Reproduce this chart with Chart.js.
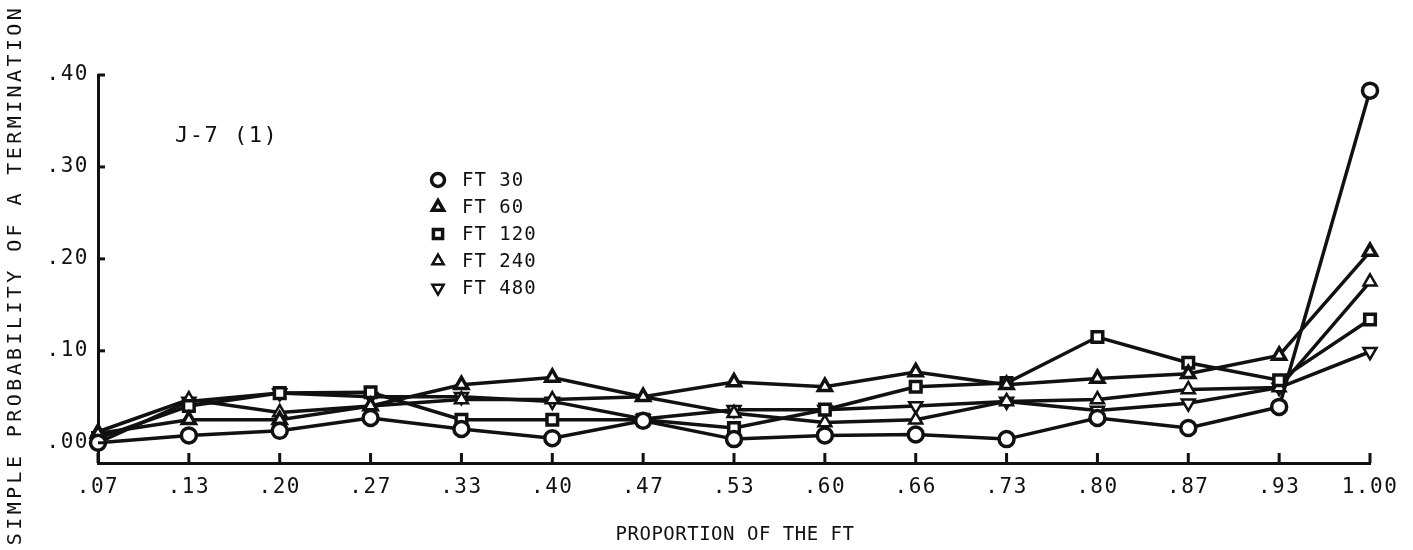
<!DOCTYPE html>
<html>
<head>
<meta charset="utf-8">
<script src="https://cdn.jsdelivr.net/npm/chart.js@4/dist/chart.umd.min.js"></script>
<style>
  html, body { margin: 0; padding: 0; background: #fff; }
  #wrap { width: 1413px; height: 550px; position: relative; }
</style>
</head>
<body>
<div id="wrap"><canvas id="chart-term"></canvas></div>
<script>
// categories on the x axis (proportion of the FT)
const categories = ['.07', '.13', '.20', '.27', '.33', '.40', '.47', '.53', '.60', '.66', '.73', '.80', '.87', '.93', '1.00'];

// y tick values and their printed labels
const yTicks = [0, 0.1, 0.2, 0.3, 0.4];
const yTickLabels = ['.00', '.10', '.20', '.30', '.40'];

// series
const seriesNames = ['FT 30', 'FT 60', 'FT 120', 'FT 240', 'FT 480'];
const ft30  = [0.000, 0.008, 0.013, 0.027, 0.015, 0.005, 0.024, 0.004, 0.008, 0.009, 0.004, 0.027, 0.016, 0.039, 0.383];
const ft60  = [0.010, 0.025, 0.025, 0.040, 0.063, 0.071, 0.050, 0.066, 0.061, 0.077, 0.063, 0.070, 0.075, 0.095, 0.208];
const ft120 = [0.005, 0.040, 0.054, 0.055, 0.025, 0.025, 0.025, 0.016, 0.036, 0.061, 0.065, 0.115, 0.087, 0.068, 0.134];
const ft240 = [0.012, 0.047, 0.033, 0.040, 0.047, 0.047, 0.050, 0.032, 0.022, 0.025, 0.045, 0.047, 0.058, 0.060, 0.175];
const ft480 = [0.000, 0.045, 0.054, 0.050, 0.050, 0.045, 0.026, 0.036, 0.036, 0.040, 0.045, 0.035, 0.043, 0.060, 0.099];

const FONT = '"DejaVu Sans Mono", "Liberation Mono", monospace';
const INK = '#111';

const markers = [
  { style: 'circle',   rot: 0,   bw: 3.5 },
  { style: 'triangle', rot: 0,   bw: 3.5 },
  { style: 'rect',     rot: 0,   bw: 3.5 },
  { style: 'triangle', rot: 0,   bw: 2.5 },
  { style: 'triangle', rot: 180, bw: 2.5 }
];

function makeSet(name, values, i) {
  return {
    label: name,
    data: values,
    borderColor: INK,
    borderWidth: 3.5,
    backgroundColor: '#fff',
    pointStyle: markers[i].style,
    pointRotation: markers[i].rot,
    pointRadius: 7.5,
    pointBorderWidth: markers[i].bw,
    pointBorderColor: INK,
    pointBackgroundColor: '#fff',
    tension: 0,
    clip: false
  };
}

// texts, legend and inward tick marks
const decor = {
  id: 'decor',
  beforeDraw(chart) {
    chart.ctx.letterSpacing = '1.5px';
  },
  afterDraw(chart) {
    const ctx = chart.ctx;
    const xs = chart.scales.x, ys = chart.scales.y;
    ctx.save();
    ctx.strokeStyle = INK;
    ctx.lineWidth = 3;
    // tick marks pointing into the plot
    ys.ticks.forEach(t => {
      const y = ys.getPixelForValue(t.value);
      ctx.beginPath(); ctx.moveTo(xs.left, y); ctx.lineTo(xs.left + 7, y); ctx.stroke();
    });
    categories.forEach((c, i) => {
      const x = xs.getPixelForValue(i);
      ctx.beginPath(); ctx.moveTo(x, ys.bottom); ctx.lineTo(x, ys.bottom - 10); ctx.stroke();
    });

    ctx.fillStyle = INK;
    ctx.textBaseline = 'middle';

    // y axis title
    ctx.save();
    ctx.translate(16, 275);
    ctx.rotate(-Math.PI / 2);
    ctx.font = '20px ' + FONT;
    ctx.letterSpacing = '3.4px';
    ctx.textAlign = 'center';
    ctx.fillText('SIMPLE PROBABILITY OF A TERMINATION', 0, 0);
    ctx.restore();

    // x axis title
    ctx.font = '19px ' + FONT;
    ctx.letterSpacing = '0.5px';
    ctx.textAlign = 'center';
    ctx.fillText('PROPORTION OF THE FT', 735, 535);

    // label
    ctx.font = '22px ' + FONT;
    ctx.letterSpacing = '1.5px';
    ctx.textAlign = 'left';
    ctx.fillText('J-7 (1)', 175, 136);

    // legend
    ctx.font = '19px ' + FONT;
    ctx.letterSpacing = '1px';
    seriesNames.forEach((name, i) => {
      const y = 180 + i * 27;
      ctx.fillStyle = '#fff';
      ctx.strokeStyle = INK;
      ctx.lineWidth = markers[i].bw;
      if (Chart.helpers && Chart.helpers.drawPoint) {
        Chart.helpers.drawPoint(ctx, {
          pointStyle: markers[i].style, rotation: markers[i].rot,
          radius: 6.5, borderWidth: markers[i].bw
        }, 438, y);
      }
      ctx.fillStyle = INK;
      ctx.fillText(name, 462, y + 1);
    });
    ctx.restore();
  }
};

const ctx = document.getElementById('chart-term').getContext('2d');
new Chart(ctx, {
  type: 'line',
  data: {
    labels: categories,
    datasets: [
      makeSet(seriesNames[0], ft30, 0),
      makeSet(seriesNames[1], ft60, 1),
      makeSet(seriesNames[2], ft120, 2),
      makeSet(seriesNames[3], ft240, 3),
      makeSet(seriesNames[4], ft480, 4)
    ]
  },
  options: {
    responsive: true,
    maintainAspectRatio: false,
    animation: false,
    events: [],
    layout: { padding: { left: 0, right: 43, top: 75, bottom: 0 } },
    plugins: {
      legend: { display: false },
      tooltip: { enabled: false }
    },
    scales: {
      x: {
        type: 'category',
        offset: false,
        grid: { display: false, drawTicks: false },
        border: { display: true, color: INK, width: 3 },
        ticks: {
          color: INK,
          padding: 12,
          maxRotation: 0,
          autoSkip: false,
          font: { family: FONT, size: 21 }
        },
        afterFit(scale) { scale.height = 87; }
      },
      y: {
        min: -0.022,
        max: 0.40,
        grid: { display: false, drawTicks: false },
        border: { display: true, color: INK, width: 3 },
        afterBuildTicks(scale) { scale.ticks = yTicks.map(v => ({ value: v })); },
        ticks: {
          color: INK,
          padding: 9,
          font: { family: FONT, size: 21 },
          callback: function (value) {
            const i = yTicks.findIndex(v => Math.abs(v - value) < 1e-6);
            return i >= 0 ? yTickLabels[i] : '';
          }
        },
        afterFit(scale) { scale.width = 98; }
      }
    }
  },
  plugins: [decor]
});
</script>
</body>
</html>
